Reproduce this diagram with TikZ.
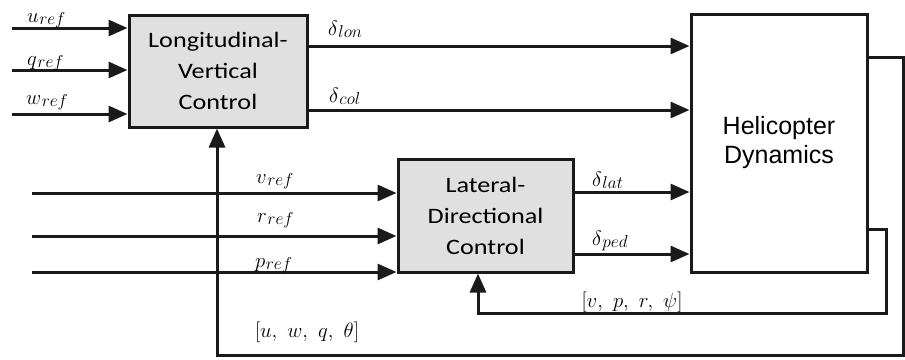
\documentclass[tikz,border=0pt]{standalone}
\usepackage{fontspec}
\newfontfamily\boxfont{Carlito}[FakeStretch=1.19]
\newfontfamily\helfont{Liberation Sans}
\usetikzlibrary{arrows.meta}
\definecolor{ink}{HTML}{1A1A1A}
\definecolor{boxgray}{HTML}{E0E0E0}
\newcommand\rlbl[2]{{\fontsize{22}{22}\selectfont$#1$\kern0.5pt\raisebox{-0.3ex}{\fontsize{16}{16}\selectfont$#2$}}}
\tikzset{
  wire/.style={draw=ink, line width=3pt},
  sig/.style={wire, -{Triangle[length=19pt 0 0,width=16pt 0 0]}},
  ctrlbox/.style={draw=ink, line width=3pt, fill=boxgray, inner sep=0pt, align=center,
    font=\boxfont\fontsize{22}{31}\selectfont},
  plantbox/.style={draw=ink, line width=3pt, fill=white, inner sep=0pt, align=center,
    font=\helfont\fontsize{25}{29}\selectfont},
  lab/.style={inner sep=0pt, anchor=base west},
}
\begin{document}
\begin{tikzpicture}[x=1pt, y=-1pt]
\useasboundingbox (0,0) rectangle (905,359);
% blocks
\node[ctrlbox, minimum width=178pt, minimum height=112pt] (lon) at (218,71) {Longitudinal-\\Vertical\\Control};
\node[ctrlbox, minimum width=175pt, minimum height=113pt] (lat) at (485.5,215.5) {Lateral-\\Directional\\Control};
\node[plantbox, minimum width=176pt, minimum height=258pt] (hel) at (779,143) {Helicopter\\Dynamics};
% free ends
\coordinate (iu) at (12,28);
\coordinate (iq) at (12,70);
\coordinate (iw) at (12,114);
\coordinate (iv) at (32,193);
\coordinate (ir) at (32,236);
\coordinate (ip) at (32,272);
\coordinate (ylon) at (0,46);
\coordinate (ycol) at (0,110);
\coordinate (ylat) at (0,192);
\coordinate (yped) at (0,254);
\coordinate (fa) at (903,57);
\coordinate (fb) at (217,355);
\coordinate (ga) at (886,229);
\coordinate (gb) at (478,313);
% inputs
\draw[sig] (iu) -- (iu -| lon.west);
\draw[sig] (iq) -- (iq -| lon.west);
\draw[sig] (iw) -- (iw -| lon.west);
\draw[sig] (iv) -- (iv -| lat.west);
\draw[sig] (ir) -- (ir -| lat.west);
\draw[sig] (ip) -- (ip -| lat.west);
% control outputs
\draw[sig] (ylon -| lon.east) -- (ylon -| hel.west);
\draw[sig] (ycol -| lon.east) -- (ycol -| hel.west);
\draw[sig] (ylat -| lat.east) -- (ylat -| hel.west);
\draw[sig] (yped -| lat.east) -- (yped -| hel.west);
% feedback
\draw[sig] (fa -| hel.east) -- (fa) |- (fb) -- (fb |- lon.south);
\draw[sig] (ga -| hel.east) -- (ga) |- (gb) -- (gb |- lat.south);
% labels
\node[lab] (lu) at (27,22) {\rlbl{u}{ref}};
\node[lab] (lq) at (27,65) {\rlbl{q}{ref}};
\node[lab] (lw) at (26,104) {\rlbl{w}{ref}};
\node[lab] (lv) at (256,183) {\rlbl{v}{ref}};
\node[lab] (lr) at (257,222) {\rlbl{r}{ref}};
\node[lab] (lp) at (255,267) {\rlbl{p}{ref}};
\node[lab] (dlon) at (328,35) {\rlbl{\delta}{lon}};
\node[lab] (dcol) at (329,102) {\rlbl{\delta}{col}};
\node[lab] (dlat) at (592,186) {\rlbl{\delta}{lat}};
\node[lab] (dped) at (592,245) {\rlbl{\delta}{ped}};
\node[inner sep=0pt, anchor=base] (fblon) at (307,337) {\fontsize{22}{22}\selectfont $[u,\ w,\ q,\ \theta]$};
\node[inner sep=0pt, anchor=base] (fblat) at (632,307) {\fontsize{22}{22}\selectfont $[v,\ p,\ r,\ \psi]$};
\end{tikzpicture}
\end{document}
